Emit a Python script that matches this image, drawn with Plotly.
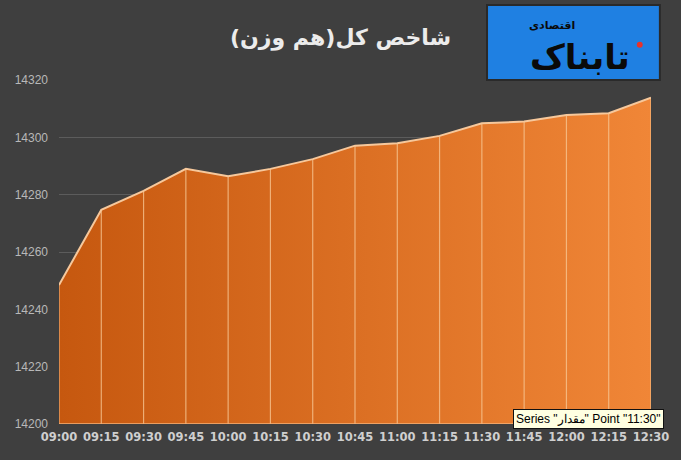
import plotly.graph_objects as go

# index values
times = ["09:00", "09:15", "09:30", "09:45", "10:00", "10:15", "10:30", "10:45",
         "11:00", "11:15", "11:30", "11:45", "12:00", "12:15", "12:30"]
index_values = [14248.5, 14274.7, 14281.3, 14289.0, 14286.4, 14289.0, 14292.4, 14297.1,
                14297.9, 14300.5, 14304.9, 14305.5, 14307.8, 14308.4, 14313.8]
y_ticks = [14200, 14220, 14240, 14260, 14280, 14300, 14320]
base_value = 14200

title_text = "شاخص کل(هم وزن)"
tooltip_text = 'Series "مقدار" Point "11:30"'

bg = "#3f3f3f"
fa_font = "DejaVu Sans"

fig = go.Figure()

# filled area with a left-to-right orange gradient
fig.add_trace(go.Scatter(
    x=times, y=index_values, mode="lines",
    line=dict(color="#f6c89c", width=2),
    fill="tozeroy",
    fillgradient=dict(type="horizontal",
                      colorscale=[[0, "#c6580f"], [1, "#f08637"]]),
    hoverinfo="skip", showlegend=False,
))

# thin light drop lines under every point
drop_x, drop_y = [], []
for t, v in zip(times, index_values):
    drop_x += [t, t, None]
    drop_y += [v, base_value, None]
fig.add_trace(go.Scatter(
    x=drop_x, y=drop_y, mode="lines",
    line=dict(color="rgba(248,200,150,0.75)", width=1.2),
    hoverinfo="skip", showlegend=False,
))

# baseline
fig.add_trace(go.Scatter(
    x=[times[0], times[-1]], y=[base_value, base_value], mode="lines",
    line=dict(color="#f3b27a", width=1.5),
    hoverinfo="skip", showlegend=False,
))

fig.update_layout(
    width=681, height=460,
    margin=dict(l=59, r=30, t=80, b=36),
    paper_bgcolor=bg, plot_bgcolor=bg,
    font=dict(family="DejaVu Sans", color="#c8c8c8"),
    xaxis=dict(
        type="category", range=[0, len(times) - 1],
        showgrid=False, zeroline=False, showline=False,
        tickfont=dict(family="DejaVu Sans", size=11.5, color="#cfcfcf", weight="bold"),
        ticks="", ticklabelstandoff=4,
    ),
    yaxis=dict(
        range=[y_ticks[0], y_ticks[-1]], tickvals=y_ticks, tickformat="d",
        showgrid=True, gridcolor="#5c5c5c", gridwidth=1,
        zeroline=False, showline=False, ticks="",
        tickfont=dict(family="Liberation Sans", size=12, color="#b8b8b8"),
        ticklabelstandoff=10,
    ),
    shapes=[
        # logo box
        dict(type="rect", xref="paper", yref="paper",
             x0=0.723, x1=1.015, y0=1.0, y1=1.218,
             fillcolor="#1f80e2", line=dict(color="#2a2a2a", width=2), layer="above"),
        dict(type="circle", xref="paper", yref="paper",
             x0=0.976, x1=0.986, y0=1.094, y1=1.111,
             fillcolor="#e8322b", line=dict(width=0)),
    ],
    annotations=[
        dict(text=title_text, xref="paper", yref="paper", x=0.475, y=1.122,
             xanchor="center", yanchor="middle", showarrow=False,
             font=dict(family=fa_font, size=22, color="#ececec", weight="bold")),
        dict(text="تابناک", xref="paper", yref="paper", x=0.88, y=1.068,
             xanchor="center", yanchor="middle", showarrow=False,
             font=dict(family=fa_font, size=34, color="#0a0a0a", weight="bold")),
        dict(text="اقتصادی", xref="paper", yref="paper", x=0.833, y=1.158,
             xanchor="center", yanchor="middle", showarrow=False,
             font=dict(family=fa_font, size=11, color="#0a0a0a", weight="bold")),
        dict(text=tooltip_text, xref="paper", yref="paper", x=0.895, y=0.0145,
             xanchor="center", yanchor="middle", showarrow=False,
             bgcolor="#ffffe1", bordercolor="#111111", borderwidth=1, borderpad=2,
             font=dict(family="Liberation Sans", size=12, color="#000000")),
    ],
)

fig.write_html("out.html", config={"displayModeBar": False},
               post_script="document.body.style.margin='0';")
